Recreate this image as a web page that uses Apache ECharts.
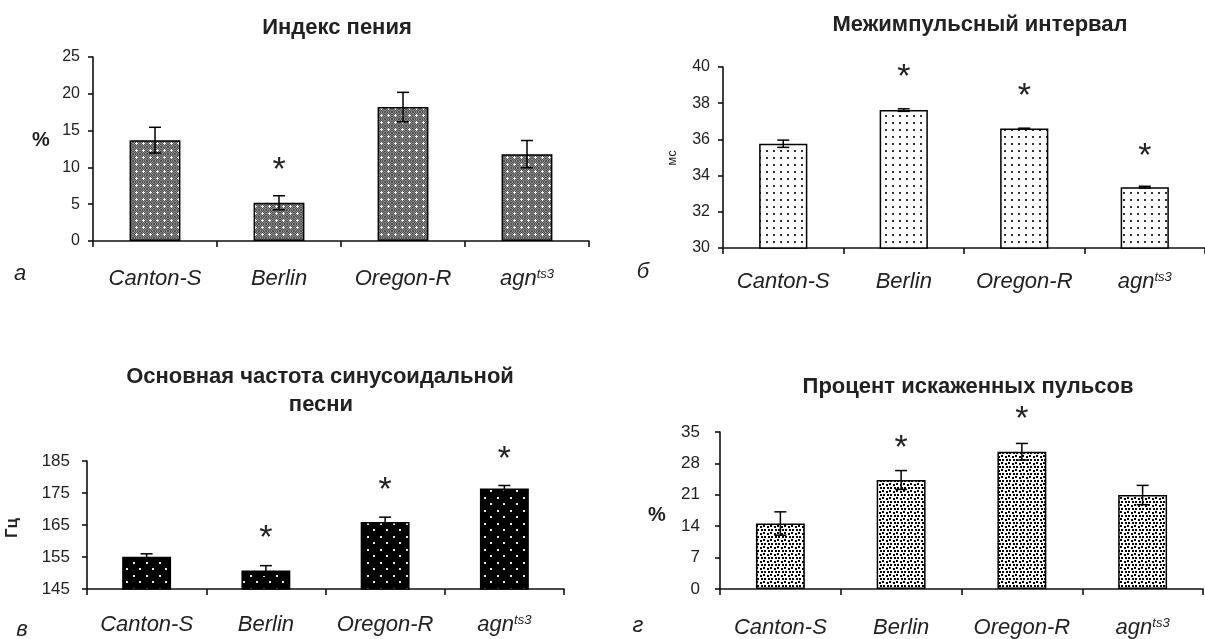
<!DOCTYPE html>
<html>
<head>
<meta charset="utf-8">
<script src="https://cdn.jsdelivr.net/npm/echarts@6/dist/echarts.min.js"></script>
<style>
html,body{margin:0;padding:0;background:#fff;}
#chart{width:1205px;height:639px;}
</style>
</head>
<body>
<div id="chart"></div>
<script>
// ---------------- data ----------------
const categories = ['Canton-S', 'Berlin', 'Oregon-R', 'agn'];
const agnSuperscript = 'ts3';

// а: Индекс пения, %
const singIndex = [13.7, 5.2, 18.2, 11.8];
const singErr = [1.75, 0.95, 2.0, 1.85];
const singStars = [null, 10.6, null, null];
const singTicks = [0, 5, 10, 15, 20, 25];

// б: Межимпульсный интервал, мс
const ipi = [35.76, 37.62, 36.6, 33.36];
const ipiErr = [0.2, 0.07, 0.02, 0.05];
const ipiStars = [null, 39.8, 38.8, 35.45];
const ipiTicks = [30, 32, 34, 36, 38, 40];

// в: Основная частота синусоидальной песни, Гц
const sineFreq = [155.1, 150.8, 165.9, 176.4];
const sineErr = [0.9, 1.5, 1.55, 0.95];
const sineStars = [null, 163.2, 178.2, 187.9];
const sineTicks = [145, 155, 165, 175, 185];

// г: Процент искаженных пульсов, %
const distorted = [14.6, 24.3, 30.6, 20.95];
const distortedErr = [2.6, 2.1, 1.85, 2.15];
const distortedStars = [null, 32.9, 39.4, null];
const distortedTicks = [0, 7, 14, 21, 28, 35];

// ---------------- patterns ----------------
const FONT = "'Liberation Sans', Arial, sans-serif";
function tile(w, h, draw) {
  const c = document.createElement('canvas');
  c.width = w; c.height = h;
  const g = c.getContext('2d');
  draw(g, w, h);
  return { image: c, repeat: 'repeat' };
}
const patA = tile(7, 7, (g, w, h) => {
  g.fillStyle = '#868686'; g.fillRect(0, 0, w, h);
  g.fillStyle = '#555555';
  for (let y = 0; y < h; y++) for (let x = 0; x < w; x++) if ((x + y) % 2 === 0) g.fillRect(x, y, 1, 1);
  g.fillStyle = '#f4f4f4';
  g.fillRect(3, 2, 1, 3); g.fillRect(2, 3, 3, 1);
});
const patB = tile(7, 7, (g, w, h) => {
  g.fillStyle = '#ffffff'; g.fillRect(0, 0, w, h);
  g.fillStyle = '#333'; g.fillRect(3, 3, 2, 2);
});
const patC = tile(13, 13, (g, w, h) => {
  g.fillStyle = '#000'; g.fillRect(0, 0, w, h);
  g.fillStyle = '#e8e8e8'; g.fillRect(3, 3, 2, 2); g.fillRect(9, 9, 2, 2);
});
const patD = tile(7, 7, (g, w, h) => {
  g.fillStyle = '#ffffff'; g.fillRect(0, 0, w, h);
  g.fillStyle = '#000';
  g.fillRect(0, 0, 2, 2); g.fillRect(4, 1, 2, 2); g.fillRect(1, 4, 2, 2); g.fillRect(5, 4, 2, 2);
});

// ---------------- layout ----------------
const panels = [
  { grid: { left: 93, top: 57, width: 496, height: 184 }, vals: singIndex, err: singErr, stars: singStars,
    ticks: singTicks, pat: patA, barW: '41%', labelMargin: 13, labelSize: 16, xMargin: 27 },
  { grid: { left: 723, top: 67, width: 488, height: 181 }, vals: ipi, err: ipiErr, stars: ipiStars,
    ticks: ipiTicks, pat: patB, barW: '40%', labelMargin: 13, labelSize: 16, xMargin: 23 },
  { grid: { left: 87, top: 461, width: 477, height: 128 }, vals: sineFreq, err: sineErr, stars: sineStars,
    ticks: sineTicks, pat: patC, barW: '41%', labelMargin: 17, labelSize: 17, xMargin: 25 },
  { grid: { left: 720, top: 432, width: 483, height: 157 }, vals: distorted, err: distortedErr, stars: distortedStars,
    ticks: distortedTicks, pat: patD, barW: '40.5%', labelMargin: 20, labelSize: 17, xMargin: 28 }
];

const axisLineStyle = { color: '#111', width: 1.6 };
const grid = [], xAxis = [], yAxis = [], series = [];
panels.forEach((p, i) => {
  grid.push(Object.assign({ containLabel: false }, p.grid));
  xAxis.push({
    type: 'category', gridIndex: i, data: categories,
    axisLine: { lineStyle: axisLineStyle },
    axisTick: { show: true, length: 6, lineStyle: axisLineStyle },
    axisLabel: {
      margin: p.xMargin, interval: 0,
      formatter: v => v === 'agn' ? '{it|agn}{sup|' + agnSuperscript + '}' : '{it|' + v + '}',
      rich: {
        it: { fontSize: 22, fontStyle: 'italic', fontFamily: FONT, color: '#222' },
        sup: { fontSize: 13, fontStyle: 'italic', fontFamily: FONT, color: '#222', padding: [0, 0, 9, 0] }
      }
    },
    splitLine: { show: false }
  });
  yAxis.push({
    type: 'value', gridIndex: i,
    min: p.ticks[0], max: p.ticks[p.ticks.length - 1],
    axisLine: { show: true, lineStyle: axisLineStyle },
    axisTick: { show: true, length: 5, lineStyle: axisLineStyle, customValues: p.ticks },
    axisLabel: { margin: p.labelMargin, fontSize: p.labelSize, fontFamily: FONT, color: '#222', customValues: p.ticks },
    splitLine: { show: false }
  });
  series.push({
    type: 'bar', xAxisIndex: i, yAxisIndex: i, data: p.vals, barWidth: p.barW,
    itemStyle: { color: p.pat, borderColor: '#000', borderWidth: 1.5 },
    emphasis: { disabled: true }, silent: true, z: 2
  });
  series.push({
    type: 'custom', xAxisIndex: i, yAxisIndex: i, z: 5, silent: true, clip: false,
    data: p.vals.map((v, k) => [k, v, p.err[k]]),
    encode: { x: 0, y: 1 },
    renderItem: (params, api) => {
      const k = api.value(0), v = api.value(1), e = api.value(2);
      const t = api.coord([k, v + e]);
      const b = api.coord([k, v - e]);
      const hc = 6;
      const st = { stroke: '#000', lineWidth: 1.5 };
      return { type: 'group', children: [
        { type: 'line', shape: { x1: t[0], y1: t[1], x2: b[0], y2: b[1] }, style: st },
        { type: 'line', shape: { x1: t[0] - hc, y1: t[1], x2: t[0] + hc, y2: t[1] }, style: st },
        { type: 'line', shape: { x1: b[0] - hc, y1: b[1], x2: b[0] + hc, y2: b[1] }, style: st }
      ]};
    }
  });
  const starData = [];
  p.stars.forEach((s, k) => { if (s !== null) starData.push([k, s]); });
  series.push({
    type: 'custom', xAxisIndex: i, yAxisIndex: i, z: 6, silent: true, clip: false,
    data: starData, encode: { x: 0, y: 1 },
    renderItem: (params, api) => {
      const c = api.coord([api.value(0), api.value(1)]);
      const fs = 34;
      return { type: 'text', x: c[0], y: c[1] + fs * 0.22,
        style: { text: '*', font: fs + 'px ' + FONT, fill: '#222',
          align: 'center', verticalAlign: 'middle', textAlign: 'center', textVerticalAlign: 'middle' } };
    }
  });
});

function txt(text, x, y, font, rot) {
  return { type: 'text', x: x, y: y, rotation: rot || 0, silent: true,
    style: { text: text, font: font, fill: '#222',
      align: 'center', verticalAlign: 'middle', textAlign: 'center', textVerticalAlign: 'middle' } };
}
const titleFont = 'bold 22px ' + FONT;
const graphics = [
  txt('Индекс пения', 337, 28, titleFont),
  txt('Межимпульсный интервал', 980, 25, titleFont),
  txt('Основная частота синусоидальной', 320, 377, titleFont),
  txt('песни', 321, 405, titleFont),
  txt('Процент искаженных пульсов', 968, 387, titleFont),
  txt('%', 41, 140, 'bold 20px ' + FONT),
  txt('мс', 672, 158, '13px ' + FONT, Math.PI / 2),
  txt('Гц', 12, 528, 'bold 17px ' + FONT, Math.PI / 2),
  txt('%', 657, 515, 'bold 20px ' + FONT),
  txt('а', 20, 274, 'italic 22px ' + FONT),
  txt('б', 643, 272, 'italic 22px ' + FONT),
  txt('в', 22, 630, 'italic 22px ' + FONT),
  txt('г', 638, 626, 'italic 22px ' + FONT)
];

const chart = echarts.init(document.getElementById('chart'), null, { renderer: 'canvas' });
chart.setOption({
  animation: false,
  backgroundColor: '#ffffff',
  grid: grid, xAxis: xAxis, yAxis: yAxis, series: series,
  graphic: graphics
});
</script>
</body>
</html>
